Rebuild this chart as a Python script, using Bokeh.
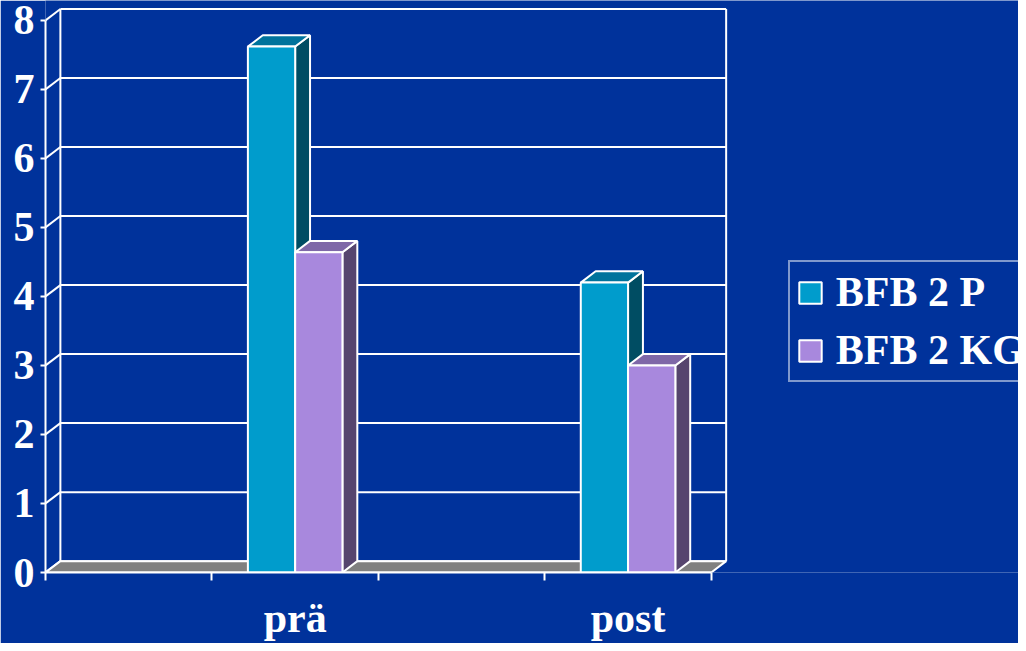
from bokeh.plotting import figure
from bokeh.models import Range1d, FixedTicker, Legend, LegendItem
from bokeh.embed import file_html
from bokeh.resources import INLINE

# ---------------- data ----------------
categories = ["prä", "post"]
cat_positions = [1.5, 3.5]          # slots of a 4-slot category axis (two empty slots)
n_slots = 4
series_names = ["BFB 2 P", "BFB 2 KG"]
bfb_2p = [7.62, 4.2]
bfb_2kg = [4.64, 3.0]
y_ticks = [0, 1, 2, 3, 4, 5, 6, 7, 8]

# ---------------- style / geometry ----------------
BG = "#00329b"
WHITE = "#ffffff"
FONT = "Liberation Serif"
front_cols = ["#009ccc", "#a888dd"]
top_cols = ["#00739c", "#7f68a8"]
side_cols = ["#004d63", "#56456e"]
FLOOR = "#808080"

W, H = 1018, 643
SX, SY = W / 1026, H / 651
PX_PER_X = (716 - 45) / 4 * SX
PX_PER_Y = 70.0 * SY
left_border = round(45 * SX)
frame_bottom = 580 * SY
bottom_border = round(H - frame_bottom)
frame_w = W - left_border
frame_h = H - bottom_border
x_end = frame_w / PX_PER_X
y_end = frame_h / PX_PER_Y
DX = 15 * SX / PX_PER_X      # depth offset (x)
DY = 11.5 * SY / PX_PER_Y    # depth offset (y)
BAR_W = 0.284
y_max = y_ticks[-1]

p = figure(width=W, height=H, output_backend="svg", toolbar_location=None,
           x_range=Range1d(0, x_end), y_range=Range1d(0, y_end),
           min_border_left=left_border, min_border_right=0,
           min_border_top=0, min_border_bottom=bottom_border)
p.background_fill_color = BG
p.border_fill_color = BG
p.outline_line_color = None
p.grid.visible = False

# ---- back wall gridlines and edges ----
p.segment(x0=[DX] * len(y_ticks), y0=[v + DY for v in y_ticks],
          x1=[n_slots + DX] * len(y_ticks), y1=[v + DY for v in y_ticks],
          line_color=WHITE, line_width=2)
p.segment(x0=[DX, n_slots + DX], y0=[DY, DY], x1=[DX, n_slots + DX], y1=[y_max + DY, y_max + DY],
          line_color=WHITE, line_width=2)
# left side wall diagonals
p.segment(x0=[0] * len(y_ticks), y0=y_ticks, x1=[DX] * len(y_ticks), y1=[v + DY for v in y_ticks],
          line_color=WHITE, line_width=2)

# ---- floor ----
p.patch([0, n_slots, n_slots + DX, DX], [0, 0, DY, DY], fill_color=FLOOR,
        line_color=WHITE, line_width=2)

# ---- bars ----
legend_renderers = [[], []]
for ci, c in enumerate(cat_positions):
    for si, vals in enumerate([bfb_2p, bfb_2kg]):
        v = vals[ci]
        x0 = c - BAR_W + si * BAR_W
        x1 = x0 + BAR_W
        p.patch([x1, x1 + DX, x1 + DX, x1], [0, DY, v + DY, v], fill_color=side_cols[si],
                line_color=WHITE, line_width=2)
        p.patch([x0, x1, x1 + DX, x0 + DX], [v, v, v + DY, v + DY], fill_color=top_cols[si],
                line_color=WHITE, line_width=2)
        r = p.quad(left=[x0], right=[x1], bottom=[0], top=[v], fill_color=front_cols[si],
                   line_color=WHITE, line_width=2)
        legend_renderers[si].append(r)

# ---- axes ----
ya = p.yaxis[0]
ya.ticker = FixedTicker(ticks=y_ticks)
ya.bounds = (0, y_max)
ya.axis_line_color = WHITE
ya.axis_line_width = 2
ya.major_tick_line_color = WHITE
ya.major_tick_line_width = 2
ya.major_tick_out = 5
ya.major_tick_in = 0
ya.minor_tick_line_color = None
ya.major_label_standoff = 6
ya.major_label_text_font = FONT
ya.major_label_text_font_style = "bold"
ya.major_label_text_font_size = "42px"
ya.major_label_text_color = WHITE

xa = p.xaxis[0]
xa.ticker = FixedTicker(ticks=cat_positions, minor_ticks=list(range(n_slots + 1)))
xa.major_label_overrides = {pos: lab for pos, lab in zip(cat_positions, categories)}
xa.bounds = (0, n_slots)
xa.axis_line_color = WHITE
xa.axis_line_width = 2
xa.major_tick_line_color = None
xa.major_tick_out = 0
xa.major_tick_in = 0
xa.minor_tick_line_color = WHITE
xa.minor_tick_line_width = 2
xa.minor_tick_out = 8
xa.minor_tick_in = 0
xa.major_label_standoff = 14
xa.major_label_text_font = FONT
xa.major_label_text_font_style = "bold"
xa.major_label_text_font_size = "42px"
xa.major_label_text_color = WHITE

# ---- legend ----
legend_left = 794 * SX - left_border
legend_bottom = frame_bottom - 388 * SY
legend = Legend(items=[LegendItem(label=series_names[i], renderers=[legend_renderers[i][0]])
                       for i in range(2)],
                location=(legend_left, legend_bottom), orientation="vertical",
                glyph_width=28, glyph_height=27, label_standoff=12,
                padding=6, spacing=10, margin=0,
                label_text_font=FONT, label_text_font_style="bold",
                label_text_font_size="42px", label_text_color=WHITE,
                background_fill_alpha=0, border_line_color=WHITE, border_line_width=2)
p.add_layout(legend, "center")

open("out.html", "w").write(file_html(p, INLINE))
